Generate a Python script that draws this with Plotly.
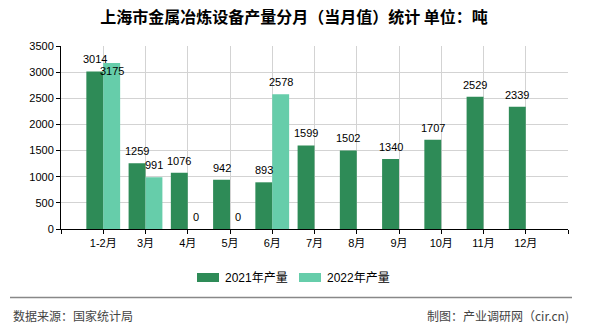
import plotly.graph_objects as go

categories = ["1-2月", "3月", "4月", "5月", "6月", "7月", "8月", "9月", "10月", "11月", "12月"]
values_2021 = [3014, 1259, 1076, 942, 893, 1599, 1502, 1340, 1707, 2529, 2339]
values_2022 = [3175, 991, 0, 0, 2578, None, None, None, None, None, None]
series_names = ["2021年产量", "2022年产量"]
y_ticks = [0, 500, 1000, 1500, 2000, 2500, 3000, 3500]

C1 = "#2E8B57"
C2 = "#66CDAA"
FONT = "Liberation Sans, Noto Sans CJK SC, sans-serif"

# layout in pixels
W, H = 590, 330
L, R, T, B = 61, 22, 46, 101
PW, PH = W - L - R, H - T - B


def px_x(p):
    return (p - L) / PW


def px_y(p):
    return (H - B - p) / PH


xs = list(range(len(categories)))
fig = go.Figure()
fig.add_bar(x=xs, y=values_2021, name=series_names[0], marker_color=C1, marker_line_width=0)
fig.add_bar(x=xs, y=[v if v is not None else None for v in values_2022], name=series_names[1],
            marker_color=C2, marker_line_width=0)

annotations = []
slot_px = PW / 12.0
off = 0.2 * slot_px
for i, v in enumerate(values_2021):
    annotations.append(dict(x=i, y=v, xref="x", yref="y", text=str(v), showarrow=False,
                            xshift=-off, yshift=12, yanchor="middle",
                            font=dict(family=FONT, size=11, color="#000")))
for i, v in enumerate(values_2022):
    if v is None:
        continue
    ys = 12
    # avoid overlap with neighbouring 2021 label
    if values_2021[i] is not None and 0 < v - values_2021[i] < 300:
        ys = -8
    annotations.append(dict(x=i, y=v, xref="x", yref="y", text=str(v), showarrow=False,
                            xshift=off, yshift=ys, yanchor="middle",
                            font=dict(family=FONT, size=11, color="#000")))

# custom legend
legend_items = [(series_names[0], C1, 197), (series_names[1], C2, 299)]
shapes = []
for name, col, x0 in legend_items:
    shapes.append(dict(type="rect", xref="paper", yref="paper",
                       x0=px_x(x0), x1=px_x(x0 + 22), y0=px_y(282), y1=px_y(273),
                       fillcolor=col, line_width=0))
    annotations.append(dict(x=px_x(x0 + 26), y=px_y(277.5), xref="paper", yref="paper",
                            text=name, showarrow=False, xanchor="left", yanchor="middle",
                            font=dict(family=FONT, size=12, color="#000")))

# footer
shapes.append(dict(type="line", xref="paper", yref="paper", x0=px_x(10), x1=px_x(572),
                   y0=px_y(297.5), y1=px_y(297.5), line=dict(color="#888888", width=1.5)))
annotations.append(dict(x=px_x(11), y=px_y(315), xref="paper", yref="paper",
                        text="数据来源：国家统计局", showarrow=False, xanchor="left", yanchor="middle",
                        font=dict(family="Noto Sans CJK SC", size=12, color="#444")))
annotations.append(dict(x=px_x(571), y=px_y(315), xref="paper", yref="paper",
                        text="制图：产业调研网（cir.cn)", showarrow=False, xanchor="right", yanchor="middle",
                        font=dict(family="Noto Sans CJK SC", size=12, color="#444")))

tickvals = [-1] + xs + [len(categories)]
ticktext = [""] + categories + [""]

fig.update_layout(
    width=W, height=H,
    margin=dict(l=L, r=R, t=T, b=B),
    paper_bgcolor="white", plot_bgcolor="white",
    barmode="group", bargap=0.2, bargroupgap=0,
    showlegend=False,
    title=dict(text="上海市金属冶炼设备产量分月（当月值）统计 单位：吨",
               x=294 / W, xanchor="center", xref="container",
               y=1 - 17 / H, yanchor="middle", yref="container",
               font=dict(family="Noto Sans CJK SC", size=16, color="#000", weight="bold")),
    xaxis=dict(range=[-1, len(categories)], tickmode="array", tickvals=tickvals, ticktext=ticktext,
               showgrid=True, gridcolor="#d3d3d3", gridwidth=1,
               showline=True, linecolor="#000", linewidth=1,
               ticks="outside", ticklen=4, tickcolor="#000",
               tickfont=dict(family=FONT, size=11, color="#000"), zeroline=False),
    yaxis=dict(range=[0, 3500], tickmode="array", tickvals=y_ticks,
               showgrid=True, gridcolor="#d3d3d3", gridwidth=1,
               showline=True, linecolor="#000", linewidth=1,
               ticks="outside", ticklen=4, tickcolor="#000",
               tickfont=dict(family=FONT, size=11, color="#000"), zeroline=False),
    annotations=annotations,
    shapes=shapes,
)

fig.write_html("out.html")
